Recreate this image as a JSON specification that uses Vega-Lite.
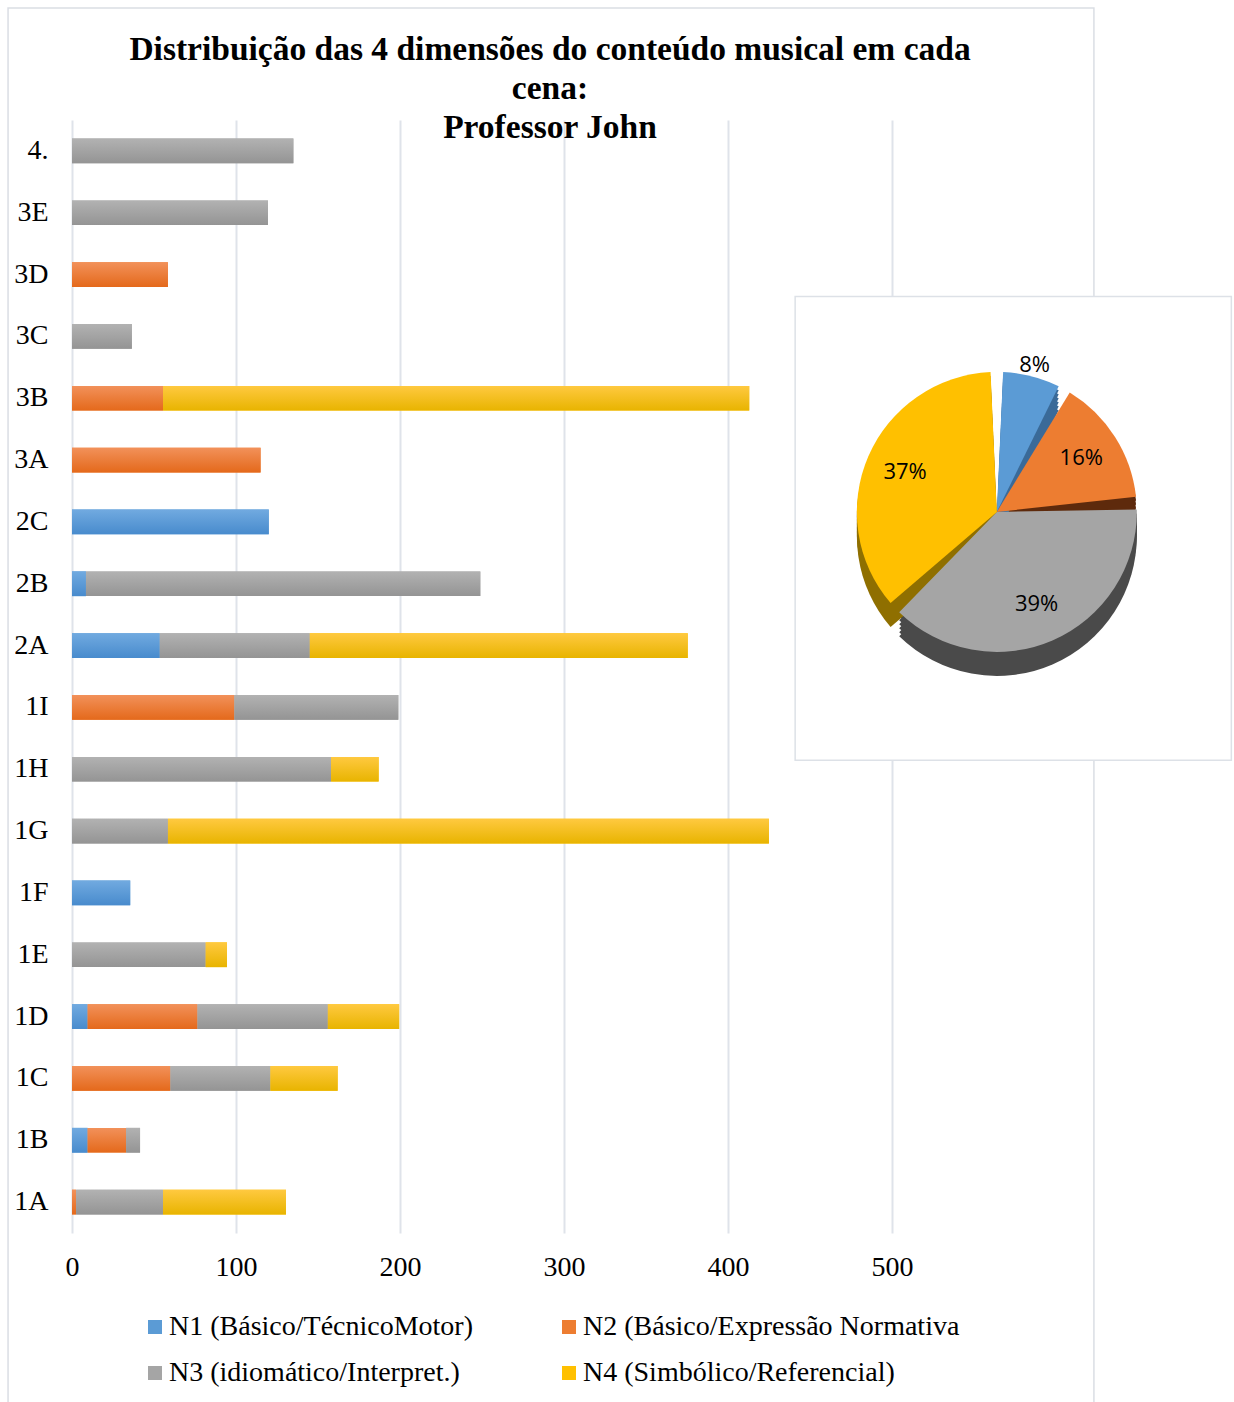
{
  "$schema": "https://vega.github.io/schema/vega-lite/v6.json",
  "width": 956,
  "height": 1113,
  "autosize": {"type": "none"},
  "padding": {"left": 72, "top": 120, "right": 206, "bottom": 169},
  "background": "white",
  "title": {
    "text": ["Distribuição das 4 dimensões do conteúdo musical em cada", "cena:", "Professor John"],
    "font": "Liberation Serif",
    "fontSize": 33.5,
    "fontWeight": "bold",
    "lineHeight": 39,
    "offset": -138,
    "color": "black",
    "anchor": "middle"
  },
  "datasets": {
    "bars": [
      {"cena": "4.", "dim": "N3 (idiomático/Interpret.)", "value": 135},
      {"cena": "3E", "dim": "N3 (idiomático/Interpret.)", "value": 119.5},
      {"cena": "3D", "dim": "N2 (Básico/Expressão Normativa", "value": 58.5},
      {"cena": "3C", "dim": "N3 (idiomático/Interpret.)", "value": 36.5},
      {"cena": "3B", "dim": "N2 (Básico/Expressão Normativa", "value": 55.5},
      {"cena": "3B", "dim": "N4 (Simbólico/Referencial)", "value": 357.5},
      {"cena": "3A", "dim": "N2 (Básico/Expressão Normativa", "value": 115},
      {"cena": "2C", "dim": "N1 (Básico/TécnicoMotor)", "value": 120},
      {"cena": "2B", "dim": "N1 (Básico/TécnicoMotor)", "value": 8.5},
      {"cena": "2B", "dim": "N3 (idiomático/Interpret.)", "value": 240.5},
      {"cena": "2A", "dim": "N1 (Básico/TécnicoMotor)", "value": 53.5},
      {"cena": "2A", "dim": "N3 (idiomático/Interpret.)", "value": 91.5},
      {"cena": "2A", "dim": "N4 (Simbólico/Referencial)", "value": 230.5},
      {"cena": "1I", "dim": "N2 (Básico/Expressão Normativa", "value": 99},
      {"cena": "1I", "dim": "N3 (idiomático/Interpret.)", "value": 100},
      {"cena": "1H", "dim": "N3 (idiomático/Interpret.)", "value": 158},
      {"cena": "1H", "dim": "N4 (Simbólico/Referencial)", "value": 29},
      {"cena": "1G", "dim": "N3 (idiomático/Interpret.)", "value": 58.5},
      {"cena": "1G", "dim": "N4 (Simbólico/Referencial)", "value": 366.5},
      {"cena": "1F", "dim": "N1 (Básico/TécnicoMotor)", "value": 35.5},
      {"cena": "1E", "dim": "N3 (idiomático/Interpret.)", "value": 81.5},
      {"cena": "1E", "dim": "N4 (Simbólico/Referencial)", "value": 13},
      {"cena": "1D", "dim": "N1 (Básico/TécnicoMotor)", "value": 9.5},
      {"cena": "1D", "dim": "N2 (Básico/Expressão Normativa", "value": 67},
      {"cena": "1D", "dim": "N3 (idiomático/Interpret.)", "value": 79.5},
      {"cena": "1D", "dim": "N4 (Simbólico/Referencial)", "value": 43.5},
      {"cena": "1C", "dim": "N2 (Básico/Expressão Normativa", "value": 60},
      {"cena": "1C", "dim": "N3 (idiomático/Interpret.)", "value": 61},
      {"cena": "1C", "dim": "N4 (Simbólico/Referencial)", "value": 41},
      {"cena": "1B", "dim": "N1 (Básico/TécnicoMotor)", "value": 9.5},
      {"cena": "1B", "dim": "N2 (Básico/Expressão Normativa", "value": 23.5},
      {"cena": "1B", "dim": "N3 (idiomático/Interpret.)", "value": 8.5},
      {"cena": "1A", "dim": "N2 (Básico/Expressão Normativa", "value": 2.5},
      {"cena": "1A", "dim": "N3 (idiomático/Interpret.)", "value": 53},
      {"cena": "1A", "dim": "N4 (Simbólico/Referencial)", "value": 75}
    ],
    "pie": [
      {"dim": "N1 (Básico/TécnicoMotor)", "pct": 8, "label": "8%"},
      {"dim": "N2 (Básico/Expressão Normativa", "pct": 16, "label": "16%"},
      {"dim": "N3 (idiomático/Interpret.)", "pct": 39, "label": "39%"},
      {"dim": "N4 (Simbólico/Referencial)", "pct": 37, "label": "37%"}
    ]
  },
  "layer": [
    {
      "data": {"values": [{"box": "frame"}]},
      "mark": {"type": "rect", "fill": null, "stroke": "#dadee4", "strokeWidth": 1.5, "yOffset": -143, "y2Offset": 210},
      "encoding": {
        "x": {"datum": -39, "type": "quantitative"},
        "x2": {"datum": 623.2},
        "y": {"datum": "4.", "type": "nominal"},
        "y2": {"datum": "1A"}
      }
    },
    {
      "data": {"name": "bars"},
      "transform": [
        {"stack": "value", "groupby": ["cena"], "sort": [{"field": "dim", "order": "ascending"}], "as": ["v0", "v1"]}
      ],
      "layer": [
        {
          "mark": {"type": "bar"},
          "encoding": {
            "y": {
              "field": "cena", "type": "nominal",
              "scale": {"domain": ["4.", "3E", "3D", "3C", "3B", "3A", "2C", "2B", "2A", "1I", "1H", "1G", "1F", "1E", "1D", "1C", "1B", "1A"], "paddingInner": 0.6, "paddingOuter": 0.3},
              "axis": {"title": null, "ticks": false, "domain": false, "grid": false, "labelFont": "Liberation Serif", "labelFontSize": 28, "labelColor": "black", "labelPadding": 24}
            },
            "x": {
              "field": "v0", "type": "quantitative",
              "scale": {"domain": [0, 583], "nice": false, "zero": true},
              "axis": {"title": null, "values": [0, 100, 200, 300, 400, 500], "ticks": false, "domain": false, "grid": true, "gridColor": "#dfe3ea", "gridWidth": 2, "labelFlush": false, "labelFont": "Liberation Serif", "labelFontSize": 28, "labelColor": "black", "labelPadding": 20}
            },
            "x2": {"field": "v1"},
            "color": {
              "field": "dim", "type": "nominal",
              "scale": {
                "domain": ["N1 (Básico/TécnicoMotor)", "N2 (Básico/Expressão Normativa", "N3 (idiomático/Interpret.)", "N4 (Simbólico/Referencial)"],
                "range": ["#5B9BD5", "#ED7D31", "#A5A5A5", "#FFC000"]
              },
              "legend": {
                "title": null, "orient": "bottom", "columns": 2, "symbolType": "square", "symbolSize": 196,
                "symbolStrokeWidth": 0, "labelFont": "Liberation Serif", "labelFontSize": 28, "labelColor": "black",
                "labelLimit": 500, "columnPadding": 81, "rowPadding": 18, "labelOffset": 0, "offset": 32
              }
            }
          }
        },
        {
          "transform": [{"filter": {"field": "dim", "equal": "N1 (Básico/TécnicoMotor)"}}],
          "mark": {"type": "bar", "fill": {"gradient": "linear", "x1": 0, "y1": 0, "x2": 0, "y2": 1, "stops": [{"offset": 0, "color": "#71aae0"}, {"offset": 1, "color": "#488bcd"}]}},
          "encoding": {"y": {"field": "cena", "type": "nominal"}, "x": {"field": "v0", "type": "quantitative"}, "x2": {"field": "v1"}}
        },
        {
          "transform": [{"filter": {"field": "dim", "equal": "N2 (Básico/Expressão Normativa"}}],
          "mark": {"type": "bar", "fill": {"gradient": "linear", "x1": 0, "y1": 0, "x2": 0, "y2": 1, "stops": [{"offset": 0, "color": "#f2915a"}, {"offset": 1, "color": "#e4691b"}]}},
          "encoding": {"y": {"field": "cena", "type": "nominal"}, "x": {"field": "v0", "type": "quantitative"}, "x2": {"field": "v1"}}
        },
        {
          "transform": [{"filter": {"field": "dim", "equal": "N3 (idiomático/Interpret.)"}}],
          "mark": {"type": "bar", "fill": {"gradient": "linear", "x1": 0, "y1": 0, "x2": 0, "y2": 1, "stops": [{"offset": 0, "color": "#b2b2b2"}, {"offset": 1, "color": "#949494"}]}},
          "encoding": {"y": {"field": "cena", "type": "nominal"}, "x": {"field": "v0", "type": "quantitative"}, "x2": {"field": "v1"}}
        },
        {
          "transform": [{"filter": {"field": "dim", "equal": "N4 (Simbólico/Referencial)"}}],
          "mark": {"type": "bar", "fill": {"gradient": "linear", "x1": 0, "y1": 0, "x2": 0, "y2": 1, "stops": [{"offset": 0, "color": "#ffc940"}, {"offset": 1, "color": "#e8b400"}]}},
          "encoding": {"y": {"field": "cena", "type": "nominal"}, "x": {"field": "v0", "type": "quantitative"}, "x2": {"field": "v1"}}
        }
      ]
    },
    {
      "data": {"values": [{"box": "inset"}]},
      "mark": {"type": "rect", "fill": "white", "stroke": "#dde1e7", "strokeWidth": 1.5, "yOffset": -40, "y2Offset": -9},
      "encoding": {
        "x": {"datum": 441, "type": "quantitative"},
        "x2": {"datum": 707},
        "y": {"datum": "3C", "type": "nominal"},
        "y2": {"datum": "1H"}
      }
    },
    {
      "data": {"name": "pie"},
      "encoding": {
        "theta": {"field": "pct", "type": "quantitative", "stack": true},
        "order": {"field": "dim", "type": "nominal"},
        "x": {"datum": 564, "type": "quantitative"},
        "y": {"datum": "2C", "type": "nominal"}
      },
      "layer": [
        {
          "mark": {"type": "arc", "outerRadius": 140, "padAngle": 0.09, "yOffset": -6},
          "encoding": {
            "fill": {"field": "dim", "type": "nominal", "legend": null, "scale": {"domain": ["N1 (Básico/TécnicoMotor)", "N2 (Básico/Expressão Normativa", "N3 (idiomático/Interpret.)", "N4 (Simbólico/Referencial)"], "range": ["#3a6a98", "#5e2a0c", "#4a4a4a", "#8f6f00"]}}
          }
        },
        {"mark": {"type": "arc", "outerRadius": 140, "padAngle": 0.09, "yOffset": -2}, "encoding": {"fill": {"field": "dim", "type": "nominal", "legend": null}}},
        {"mark": {"type": "arc", "outerRadius": 140, "padAngle": 0.09, "yOffset": 2}, "encoding": {"fill": {"field": "dim", "type": "nominal", "legend": null}}},
        {"mark": {"type": "arc", "outerRadius": 140, "padAngle": 0.09, "yOffset": 6}, "encoding": {"fill": {"field": "dim", "type": "nominal", "legend": null}}},
        {"mark": {"type": "arc", "outerRadius": 140, "padAngle": 0.09, "yOffset": 10}, "encoding": {"fill": {"field": "dim", "type": "nominal", "legend": null}}},
        {"mark": {"type": "arc", "outerRadius": 140, "padAngle": 0.09, "yOffset": 14}, "encoding": {"fill": {"field": "dim", "type": "nominal", "legend": null}}},
        {
          "mark": {"type": "arc", "outerRadius": 140, "padAngle": 0.09, "yOffset": -10},
          "encoding": {"color": {"field": "dim", "type": "nominal"}}
        },
        {
          "mark": {"type": "text", "radius": 100, "font": "Open Sans", "fontSize": 22, "color": "black", "yOffset": -10},
          "encoding": {
            "text": {"field": "label"},
            "opacity": {"condition": {"test": "datum.pct == 8", "value": 0}, "value": 1}
          }
        },
        {
          "mark": {"type": "text", "radius": 152, "font": "Open Sans", "fontSize": 22, "color": "black", "yOffset": -10},
          "encoding": {
            "text": {"field": "label"},
            "opacity": {"condition": {"test": "datum.pct == 8", "value": 1}, "value": 0}
          }
        }
      ]
    }
  ],
  "config": {
    "view": {"stroke": null},
    "legend": {"layout": {"bottom": {"anchor": "middle"}}}
  }
}
